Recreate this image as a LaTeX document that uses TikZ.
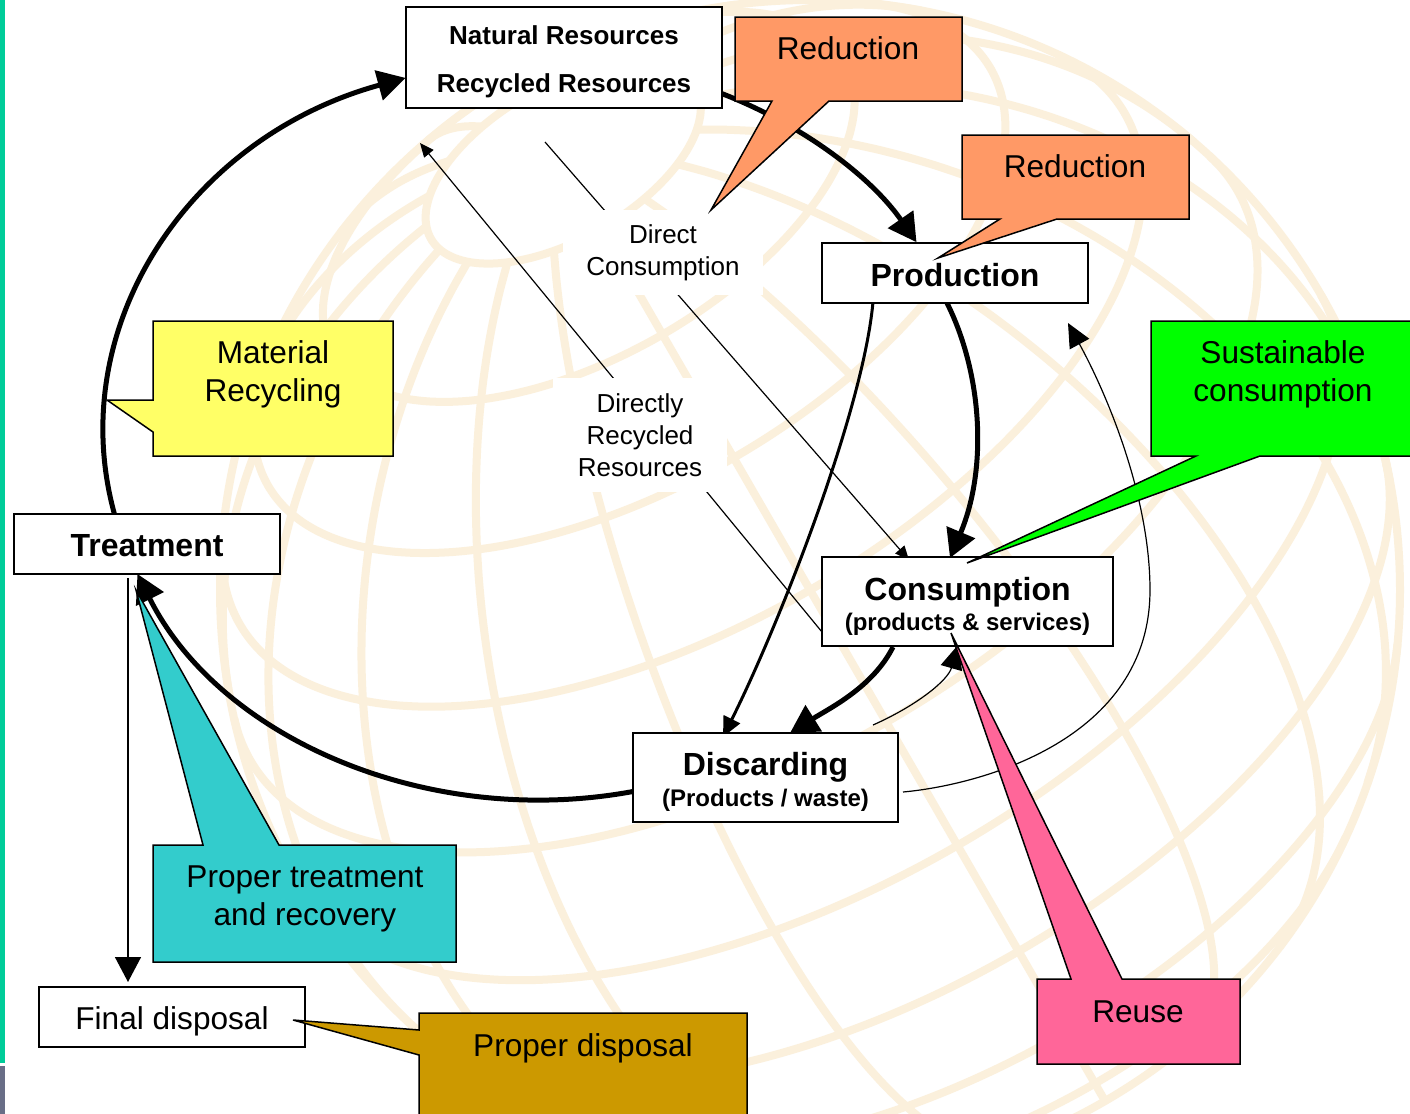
\documentclass[tikz,border=0pt]{standalone}
\usepackage{fontspec}
\setmainfont{Liberation Sans}
\usetikzlibrary{arrows.meta}
\definecolor{stripe}{RGB}{0,204,153}
\definecolor{stripedark}{RGB}{105,110,135}
\definecolor{globeline}{RGB}{251,240,220}
\definecolor{orangeC}{RGB}{255,153,102}
\definecolor{greenC}{RGB}{0,255,0}
\definecolor{yellowC}{RGB}{255,255,102}
\definecolor{cyanC}{RGB}{51,204,204}
\definecolor{goldC}{RGB}{204,153,0}
\definecolor{pinkC}{RGB}{255,102,153}
\begin{document}
\begin{tikzpicture}[x=0.5pt,y=-0.5pt,
  declare function={
    gX(\pa,\pb)=810+590*(cos(\pa)*sin(\pb)*0.8660-(sin(\pa)*0.8660-cos(\pa)*cos(\pb)*0.5)*0.5);
    gY(\pa,\pb)=590-590*(cos(\pa)*sin(\pb)*0.5+(sin(\pa)*0.8660-cos(\pa)*cos(\pb)*0.5)*0.8660);
  },
  globe/.style={draw=globeline, line width=4pt},
  box/.style={draw, fill=white, line width=0.75pt, inner sep=0pt},
  btext/.style={inner sep=0pt, align=center},
  lbl/.style={fill=white, inner sep=0pt, align=center, font=\fontsize{13}{16}\selectfont},
  callout/.style={draw, line width=0.75pt, line join=miter},
  cotext/.style={inner sep=0pt, align=center, font=\fontsize{15.8}{19}\selectfont},
  bigarr/.style={line width=2.5pt, -{Triangle[length=14pt,width=15pt]}},
  medarr/.style={line width=1.5pt, -{Triangle[length=10pt,width=9pt]}},
  thinarr/.style={line width=0.6pt, -{Triangle[length=12pt,width=11pt]}},
  smallarr/.style={line width=0.6pt, -{Triangle[length=7pt,width=6pt]}},
  vertarr/.style={line width=0.75pt, -{Triangle[length=12.5pt,width=13pt]}},
]
\useasboundingbox (0,0) rectangle (1410,1114);
\clip (0,0) rectangle (1410,1114);
\fill[white] (0,0) rectangle (1410,1114);

% ---------- globe background ----------
\foreach \pp in {-45,-30,...,75}{
  \pgfmathsetmacro\lz{acos(max(-1,min(1,-tan(\pp)*0.57735)))}
  \draw[globe] plot[domain=-\lz:\lz, samples=72, smooth] ({gX(\pp,\x)},{gY(\pp,\x)});
}
\foreach \la in {0,20,...,340}{
  \pgfmathsetmacro\fz{atan(-cos(\la)*1.7320508)}
  \draw[globe] plot[domain=\fz:75, samples=40, smooth] ({gX(\x,\la)},{gY(\x,\la)});
}
\draw[globe] (810,590) circle[radius=590];

% ---------- left stripe ----------
\fill[stripe] (0,0) rectangle (5,1063);
\fill[stripedark] (0,1066) rectangle (5,1114);

% ---------- coordinates ----------
\coordinate (ctr) at (540,430);
\path (ctr) ++(77.7:437 and 370) coordinate (eA);
\path (ctr) ++(166.9:437 and 370) coordinate (eB);
\path (ctr) ++(294.6:437 and 370) coordinate (eC);
\coordinate (pS1) at (947,303);
\coordinate (cN1) at (950,558);
\coordinate (pS2) at (873,302);
\coordinate (dN1) at (723,737);
\coordinate (cS1) at (893,647);
\coordinate (dN2) at (790,733);
\coordinate (dN3) at (873,725);
\coordinate (cS2) at (958,645);
\coordinate (dE) at (903,792);
\coordinate (via) at (1150,590);
\coordinate (pSE) at (1068,323);
\coordinate (nS) at (545,142);
\coordinate (cN2) at (909,560);
\coordinate (cW) at (822,632);
\coordinate (nS2) at (420,143);
\coordinate (tS) at (128,578);
\coordinate (fN) at (128,982);

% ---------- connectors ----------
\draw[bigarr] (eA) arc[start angle=77.7, end angle=157.1, x radius=437, y radius=370];
\draw[bigarr] (eB) arc[start angle=166.9, end angle=252.1, x radius=437, y radius=370];
\draw[bigarr] (eC) arc[start angle=294.6, end angle=329.5, x radius=437, y radius=370];
\draw[bigarr] (pS1) .. controls +(35,70) and +(38,-90) .. (cN1);
\draw[medarr] (pS2) .. controls +(-10,110) and +(55,-110) .. (dN1);
\draw[bigarr] (cS1) .. controls +(-20,40) and +(40,-25) .. (dN2);
\draw[thinarr] (dN3) .. controls +(45,-20) and +(-10,35) .. (cS2);
\draw[thinarr] (dE) .. controls (980,785) and (1150,740) .. (via) .. controls (1150,500) and (1110,400) .. (pSE);
\draw[smallarr] (nS) -- (cN2);
\draw[smallarr] (cW) -- (nS2);
\draw[vertarr] (tS) -- (fN);

% ---------- boxes ----------
\node[box, minimum width=158pt, minimum height=50.5pt] (nat) at (564,57.5) {};
\node[btext, font=\bfseries\fontsize{13}{24}\selectfont] (natT) at (564,61.5) {Natural Resources\\Recycled Resources};
\node[box, minimum width=133pt, minimum height=30pt] (prod) at (955,273) {};
\node[btext, font=\bfseries\fontsize{16}{19}\selectfont] (prodT) at (955,275) {Production};
\node[box, minimum width=145.5pt, minimum height=44.5pt] (cons) at (967.5,601.5) {};
\node[btext, font=\bfseries\fontsize{16}{15}\selectfont] (consT) at (967.5,606) {Consumption\\{\fontsize{12}{15}\selectfont (products \& services)}};
\node[box, minimum width=132.5pt, minimum height=44.5pt] (disc) at (765.5,777.5) {};
\node[btext, font=\bfseries\fontsize{16}{15.5}\selectfont] (discT) at (765.5,782) {Discarding\\{\fontsize{12}{15.5}\selectfont (Products / waste)}};
\node[box, minimum width=133pt, minimum height=30pt] (treat) at (147,544) {};
\node[btext, font=\bfseries\fontsize{16}{19}\selectfont] (treatT) at (147,546) {Treatment};
\node[box, minimum width=133pt, minimum height=30pt] (final) at (172,1017) {};
\node[btext, font=\fontsize{15.8}{19}\selectfont] (finalT) at (172,1021) {Final disposal};

% ---------- labels on lines ----------
\node[lbl, minimum width=100pt, minimum height=42.5pt] (dc) at (663,252.5) {Direct\\Consumption};
\node[lbl, minimum width=87pt, minimum height=57pt] (drr) at (640,435) {Directly\\Recycled\\Resources};

% ---------- callouts ----------
\draw[callout, fill=orangeC] (735,17) -- (962,17) -- (962,101) -- (829,101) -- (711,210) -- (772,101) -- (735,101) -- cycle;
\node[cotext] (red1) at (848,48) {Reduction};
\draw[callout, fill=orangeC] (962,135) -- (1189,135) -- (1189,219) -- (1057,219) -- (938,258) -- (1000,219) -- (962,219) -- cycle;
\node[cotext] (red2) at (1075,166) {Reduction};
\draw[callout, fill=greenC] (1151,321) -- (1418,321) -- (1418,456) -- (1260,456) -- (967,563) -- (1196,456) -- (1151,456) -- cycle;
\node[cotext] (sust) at (1283,374) {Sustainable\\consumption};
\draw[callout, fill=yellowC] (153,321) -- (393,321) -- (393,456) -- (153,456) -- (153,432) -- (107,400) -- (153,400) -- cycle;
\node[cotext] (matrec) at (273,374) {Material\\Recycling};
\draw[callout, fill=cyanC] (153,845) -- (203,845) -- (136,590) -- (279,845) -- (456,845) -- (456,962) -- (153,962) -- cycle;
\node[cotext] (ptr) at (305,899) {Proper treatment\\and recovery};
\draw[callout, fill=goldC] (419,1013) -- (747,1013) -- (747,1122) -- (419,1122) -- (419,1055) -- (293,1020) -- (419,1030) -- cycle;
\node[cotext] (pdisp) at (583,1048) {Proper disposal};
\draw[callout, fill=pinkC] (1037,979) -- (1071,979) -- (951,633) -- (1122,979) -- (1240,979) -- (1240,1064) -- (1037,1064) -- cycle;
\node[cotext] (reuse) at (1138,1012) {Reuse};
\end{tikzpicture}
\end{document}
